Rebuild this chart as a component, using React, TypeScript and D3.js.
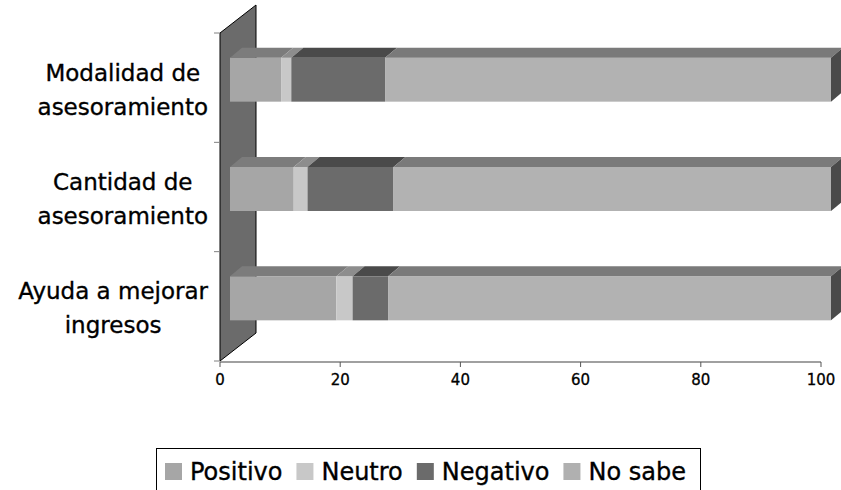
import { useEffect, useRef } from "react";
import * as d3 from "d3";

const categories = ["Modalidad de asesoramiento", "Cantidad de asesoramiento", "Ayuda a mejorar ingresos"];
const categoryLines = [["Modalidad de", "asesoramiento"], ["Cantidad de", "asesoramiento"], ["Ayuda a mejorar", "ingresos"]];
const seriesNames = ["Positivo", "Neutro", "Negativo", "No sabe"];
const positivo = [8.5, 10.6, 17.7];
const neutro = [1.7, 2.3, 2.7];
const negativo = [15.6, 14.3, 5.9];
const noSabe = [74.2, 72.8, 73.7];
const xTicks = [0, 20, 40, 60, 80, 100];

const frontColors = ["#a6a6a6", "#c8c8c8", "#6b6b6b", "#b2b2b2"];
const topColors = ["#7c7c7c", "#8d8d8d", "#4a4a4a", "#7a7a7a"];
const legendColors = ["#a6a6a6", "#c8c8c8", "#6b6b6b", "#b0b0b0"];

function Chart() {
  const ref = useRef<SVGSVGElement>(null);

  useEffect(() => {
    document.body.style.margin = "0";
    const w = 841;
    const h = 490;
    const svg = d3.select(ref.current);
    svg.selectAll("*").remove();
    svg.attr("width", w).attr("height", h).style("display", "block").style("background", "#fff");

    const font = "DejaVu Sans, sans-serif";
    const x = d3.scaleLinear().domain([0, 100]).range([220, 821]);
    const y = d3.scaleBand().domain(categories).range([33, 361]);
    const depthX = 36, depthY = -28; // wall depth
    const barDx = 12, barDy = -10; // bar depth
    const barOffX = 10, barOffY = -8;
    const faceH = 44;

    // wall
    const x0 = x(0);
    svg.append("path")
      .attr("d", `M${x0},${y.range()[0]}L${x0 + depthX},${y.range()[0] + depthY}L${x0 + depthX},${y.range()[1] + depthY}L${x0},${y.range()[1]}Z`)
      .attr("fill", "#6b6b6b")
      .attr("stroke", "#000")
      .attr("stroke-width", 1);

    // category ticks
    const catTicks = categories.map(c => y(c)!).concat([y.range()[1]]);
    svg.append("g").selectAll("line").data(catTicks).join("line")
      .attr("x1", x0 - 6).attr("x2", x0).attr("y1", d => d).attr("y2", d => d)
      .attr("stroke", "#808080");

    // x axis
    const axis = svg.append("g");
    axis.append("line").attr("x1", x(0)).attr("x2", x(100)).attr("y1", 362).attr("y2", 362).attr("stroke", "#808080").attr("stroke-width", 1.5);
    axis.selectAll("line.tick").data(xTicks).join("line").attr("class", "tick")
      .attr("x1", d => x(d)).attr("x2", d => x(d)).attr("y1", 362).attr("y2", 367).attr("stroke", "#555");
    axis.selectAll("text").data(xTicks).join("text")
      .attr("x", d => x(d)).attr("y", 385)
      .attr("text-anchor", "middle").attr("font-family", font).attr("font-size", 15)
      .attr("stroke", "#000").attr("stroke-width", 0.3)
      .text(d => String(d));

    // bars
    const series = [positivo, neutro, negativo, noSabe];
    categories.forEach((c, ci) => {
      const yc = y(c)! + y.bandwidth() / 2 + barOffY;
      const y1 = yc - faceH / 2;
      const y2 = yc + faceH / 2;
      let acc = 0;
      const g = svg.append("g");
      series.forEach((s, si) => {
        const a = x(acc) + barOffX;
        acc += s[ci];
        const b = x(acc) + barOffX;
        g.append("rect").attr("x", a).attr("y", y1).attr("width", b - a).attr("height", faceH).attr("fill", frontColors[si]);
        g.append("path")
          .attr("d", `M${a},${y1}L${a + barDx},${y1 + barDy}L${b + barDx},${y1 + barDy}L${b},${y1}Z`)
          .attr("fill", topColors[si]);
        if (si === series.length - 1) {
          g.append("path")
            .attr("d", `M${b},${y1}L${b + barDx},${y1 + barDy}L${b + barDx},${y2 + barDy}L${b},${y2}Z`)
            .attr("fill", "#4a4a4a");
        }
      });
    });

    // category labels
    categories.forEach((c, ci) => {
      const cy = y(c)! + y.bandwidth() / 2;
      const lines = categoryLines[ci];
      const texts = lines.map((l, li) =>
        svg.append("text")
          .attr("font-family", font).attr("font-size", 23)
          .attr("stroke", "#000").attr("stroke-width", 0.35)
          .attr("y", cy + 10 + (li - (lines.length - 1) / 2) * 34)
          .attr("text-anchor", "middle")
          .text(l)
      );
      const maxW = d3.max(texts, t => (t.node() as SVGTextElement).getComputedTextLength()) || 0;
      texts.forEach(t => t.attr("x", 208 - maxW / 2));
    });

    // legend
    const lg = svg.append("g");
    lg.append("rect").attr("x", 156.5).attr("y", 448.5).attr("width", 544).attr("height", 60)
      .attr("fill", "#fff").attr("stroke", "#000");
    let lx = 165;
    seriesNames.forEach((n, i) => {
      lg.append("rect").attr("x", lx).attr("y", 463).attr("width", 17).attr("height", 17).attr("fill", legendColors[i]);
      const t = lg.append("text").attr("x", lx + 25).attr("y", 480)
        .attr("font-family", font).attr("font-size", 24)
        .attr("stroke", "#000").attr("stroke-width", 0.35)
        .text(n);
      const tw = (t.node() as SVGTextElement).getComputedTextLength();
      lx += 25 + tw + 14;
    });
  }, []);

  return <svg ref={ref} width={841} height={490} />;
}

export default function App() {
  return <Chart />;
}
